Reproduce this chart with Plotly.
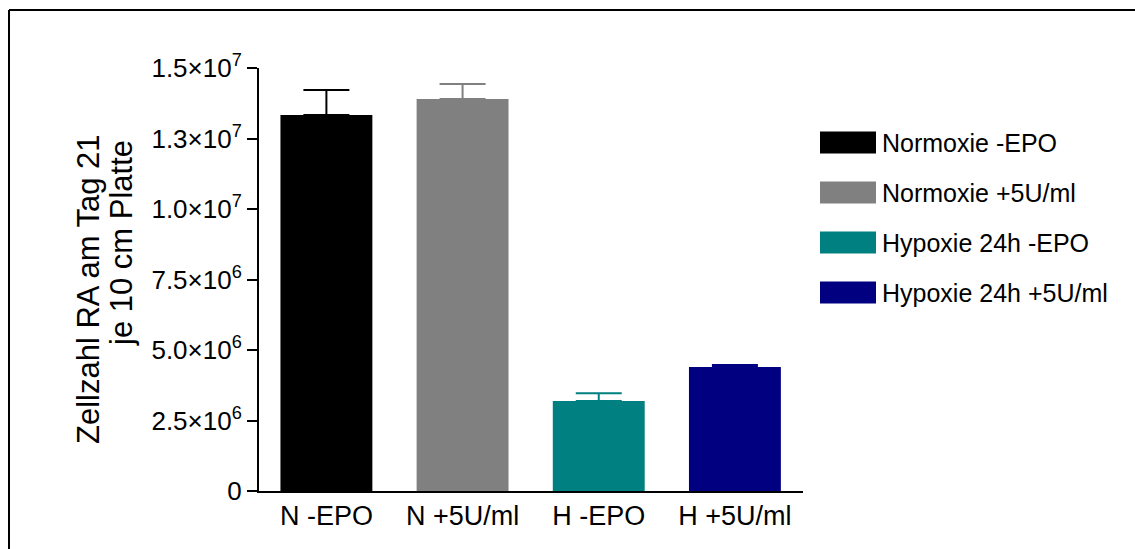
import plotly.graph_objects as go

# Cell counts at day 21 per 10 cm plate (mean and upper SEM)
categories = ["N -EPO", "N +5U/ml", "H -EPO", "H +5U/ml"]
means = [1.333e7, 1.390e7, 3.19e6, 4.40e6]
errors = [0.089e7, 0.053e7, 0.28e6, 0.07e6]
colors = ["#000000", "#808080", "#008080", "#000080"]
legend_names = ["Normoxie -EPO", "Normoxie +5U/ml", "Hypoxie 24h -EPO", "Hypoxie 24h +5U/ml"]

tick_vals = [0, 2.5e6, 5.0e6, 7.5e6, 1.0e7, 1.25e7, 1.5e7]
tick_text = ["0", "2.5×10<sup>6</sup>", "5.0×10<sup>6</sup>", "7.5×10<sup>6</sup>",
             "1.0×10<sup>7</sup>", "1.3×10<sup>7</sup>", "1.5×10<sup>7</sup>"]

W, H = 1135, 549
L, R, T, B = 259, 803, 68, 491
FONT = "Liberation Sans, Arial, sans-serif"


def px(x):
    return (x - L) / (R - L)


def py(y):
    return (B - y) / (B - T)


fig = go.Figure()
for cat, m, e, c in zip(categories, means, errors, colors):
    fig.add_trace(go.Bar(
        x=[cat], y=[m], width=0.675,
        marker=dict(color=c, line=dict(width=0)),
        error_y=dict(type="data", array=[e], arrayminus=[0], symmetric=False,
                     color=c, thickness=2, width=23),
        showlegend=False,
    ))

shapes = [
    # frame around the figure
    dict(type="line", xref="paper", yref="paper", x0=px(9), x1=px(1140), y0=py(10), y1=py(10),
         line=dict(color="black", width=2)),
    dict(type="line", xref="paper", yref="paper", x0=px(9), x1=px(9), y0=py(10), y1=py(560),
         line=dict(color="black", width=2)),
]
annotations = []
row_centers = [142.5, 192.5, 242.5, 292.5]
for name, c, yc in zip(legend_names, colors, row_centers):
    shapes.append(dict(type="rect", xref="paper", yref="paper",
                       x0=px(820), x1=px(876), y0=py(yc - 11), y1=py(yc + 11),
                       fillcolor=c, line=dict(width=0)))
    annotations.append(dict(xref="paper", yref="paper", x=px(880), y=py(yc),
                            xanchor="left", yanchor="middle", showarrow=False,
                            text=name, font=dict(family=FONT, size=25, color="black")))

# two-line y axis title
annotations.append(dict(xref="paper", yref="paper", x=px(88), y=py(289),
                        xanchor="center", yanchor="middle", showarrow=False, textangle=-90,
                        text="Zellzahl RA am Tag 21", font=dict(family=FONT, size=31, color="black")))
annotations.append(dict(xref="paper", yref="paper", x=px(121), y=py(243),
                        xanchor="center", yanchor="middle", showarrow=False, textangle=-90,
                        text="je 10 cm Platte", font=dict(family=FONT, size=31, color="black")))

fig.update_layout(
    width=W, height=H,
    margin=dict(l=L, r=W - R, t=T, b=H - B, pad=0),
    paper_bgcolor="white", plot_bgcolor="white",
    barmode="overlay",
    shapes=shapes, annotations=annotations,
    font=dict(family=FONT, color="black"),
    xaxis=dict(type="category", range=[-0.495, 3.5], showline=True, linecolor="black",
               linewidth=2, ticks="", showgrid=False, zeroline=False,
               tickfont=dict(family=FONT, size=27, color="black")),
    yaxis=dict(range=[0, 1.5e7], tickmode="array", tickvals=tick_vals, ticktext=tick_text,
               showline=True, linecolor="black", linewidth=2, ticks="outside",
               ticklen=10, tickwidth=2, tickcolor="black", showgrid=False, zeroline=False,
               tickfont=dict(family=FONT, size=26, color="black")),
)

fig.write_html("out.html")
